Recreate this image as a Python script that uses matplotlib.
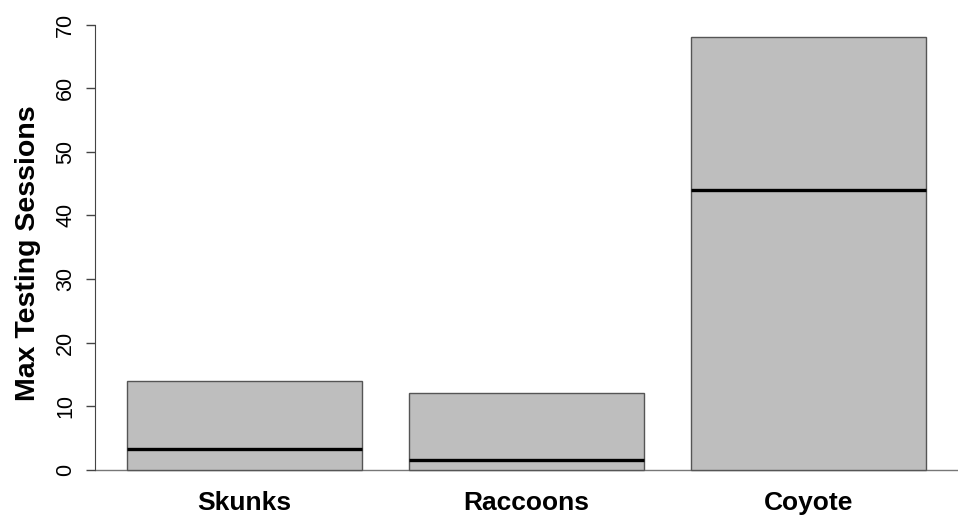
import numpy as np
import matplotlib.pyplot as plt

plt.rcParams['font.family'] = ['Liberation Sans', 'DejaVu Sans']

species = ['Skunks', 'Raccoons', 'Coyote']
max_sessions = [14, 12, 68]
median_sessions = [3.3, 1.5, 44]

fig = plt.figure(figsize=(9.59, 5.16), dpi=100)
ax = fig.add_axes([95/959, 29/516, 863/959, 467/516])

x = np.arange(len(species))
width = 0.833
ax.bar(x, max_sessions, width=width, color='#bebebe', edgecolor='#555555', linewidth=1.0, zorder=2)
ax.hlines(median_sessions, x - width/2, x + width/2, colors='black', linewidth=2.4, zorder=3)
ax.axhline(0, color='#777777', linewidth=1.0, zorder=1)

ax.set_xlim(-0.53, 2.53)
ax.set_ylim(-2.72, 70.72)

for s in ['top', 'right', 'bottom']:
    ax.spines[s].set_visible(False)
ax.spines['left'].set_bounds(0, 70)
ax.spines['left'].set_color('#444444')

ax.set_yticks(np.arange(0, 71, 10))
ax.tick_params(axis='y', length=6.5, width=1, color='#444444', pad=7, labelsize=15.5)
plt.setp(ax.get_yticklabels(), rotation=90, va='center')
ax.set_xticks(x)
ax.set_xticklabels(species, fontsize=19, fontweight='bold')
ax.tick_params(axis='x', length=0, pad=3)

ax.set_ylabel('Max Testing Sessions', fontsize=20.5, fontweight='bold', labelpad=10)

fig.savefig('out.png', dpi=100)
